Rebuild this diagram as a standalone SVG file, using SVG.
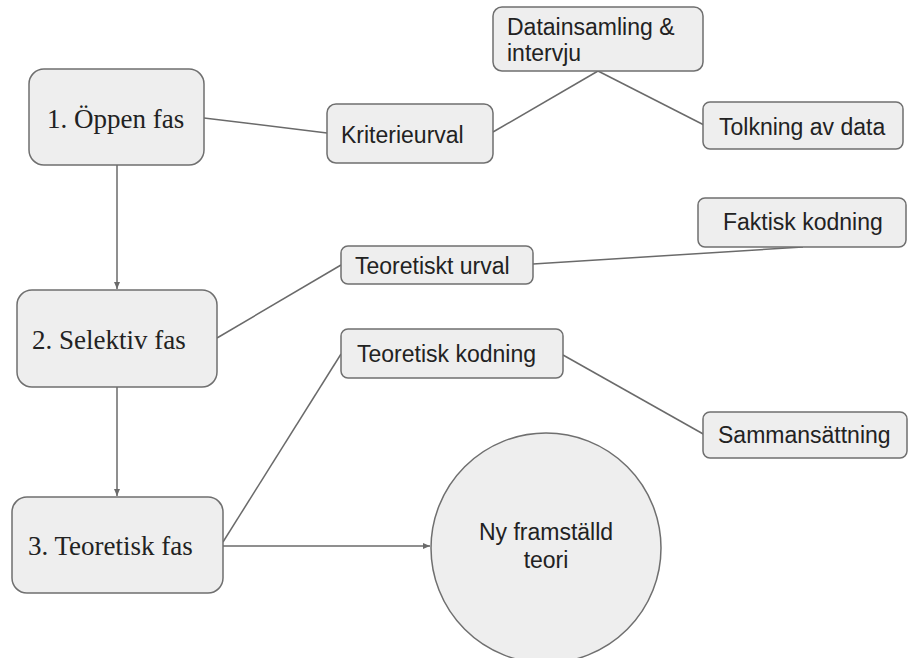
<svg xmlns="http://www.w3.org/2000/svg" width="908" height="658" viewBox="0 0 908 658">
<defs>
<style>
.box{fill:#eeeeee;stroke:#6f6f6f;stroke-width:1.5}
.serif{font-family:"Liberation Serif","Times New Roman",serif;font-size:27px;fill:#222}
.sans{font-family:"Liberation Sans",Arial,sans-serif;font-size:23px;fill:#222}
.line{fill:none;stroke:#6a6a6a;stroke-width:1.5}
</style>
<marker id="arr" markerWidth="8" markerHeight="8" refX="7" refY="4" orient="auto" markerUnits="userSpaceOnUse">
<path d="M0,1 L7,4 L0,7 Z" fill="#6a6a6a"/>
</marker>
</defs>
<rect width="908" height="658" fill="#ffffff"/>
<g id="connectors">
<line class="line" x1="117" y1="165" x2="117" y2="289" marker-end="url(#arr)"/>
<line class="line" x1="117" y1="387" x2="117" y2="496" marker-end="url(#arr)"/>
<line class="line" x1="223" y1="546" x2="430" y2="546" marker-end="url(#arr)"/>
<line class="line" x1="204" y1="118" x2="327" y2="133"/>
<line class="line" x1="493" y1="132" x2="598" y2="71"/>
<line class="line" x1="598" y1="71" x2="704" y2="125"/>
<line class="line" x1="217" y1="338" x2="341" y2="265"/>
<line class="line" x1="533" y1="264" x2="803" y2="247"/>
<line class="line" x1="223" y1="542" x2="341" y2="354"/>
<line class="line" x1="563" y1="355" x2="705" y2="435"/>
</g>
<g id="n1">
<rect class="box" x="29" y="69" width="175" height="96" rx="15"/>
<text class="serif" x="47" y="128">1. Öppen fas</text>
</g>
<g id="n2">
<rect class="box" x="17" y="290" width="200" height="97" rx="15"/>
<text class="serif" x="32" y="349">2. Selektiv fas</text>
</g>
<g id="n3">
<rect class="box" x="12" y="497" width="211" height="96" rx="15"/>
<text class="serif" x="28" y="555">3. Teoretisk fas</text>
</g>
<g id="kriterieurval">
<rect class="box" x="327" y="104" width="166" height="59" rx="9"/>
<text class="sans" x="341" y="143">Kriterieurval</text>
</g>
<g id="datainsamling">
<rect class="box" x="493" y="7" width="210" height="64" rx="9"/>
<text class="sans" x="507" y="35">Datainsamling &amp;</text>
<text class="sans" x="507" y="61">intervju</text>
</g>
<g id="tolkning">
<rect class="box" x="703" y="102" width="200" height="47" rx="7"/>
<text class="sans" x="719" y="135">Tolkning av data</text>
</g>
<g id="faktisk">
<rect class="box" x="698" y="198" width="208" height="49" rx="7"/>
<text class="sans" x="723" y="230">Faktisk kodning</text>
</g>
<g id="teoretiskt-urval">
<rect class="box" x="341" y="246" width="192" height="38" rx="7"/>
<text class="sans" x="355" y="274">Teoretiskt urval</text>
</g>
<g id="teoretisk-kodning">
<rect class="box" x="341" y="329" width="222" height="49" rx="7"/>
<text class="sans" x="357" y="362">Teoretisk kodning</text>
</g>
<g id="sammansattning">
<rect class="box" x="703" y="412" width="204" height="46" rx="7"/>
<text class="sans" x="718" y="443">Sammansättning</text>
</g>
<g id="ny-teori">
<circle class="box" cx="546" cy="548" r="115"/>
<text class="sans" x="546" y="540" text-anchor="middle">Ny framställd</text>
<text class="sans" x="546" y="568" text-anchor="middle">teori</text>
</g>
</svg>
